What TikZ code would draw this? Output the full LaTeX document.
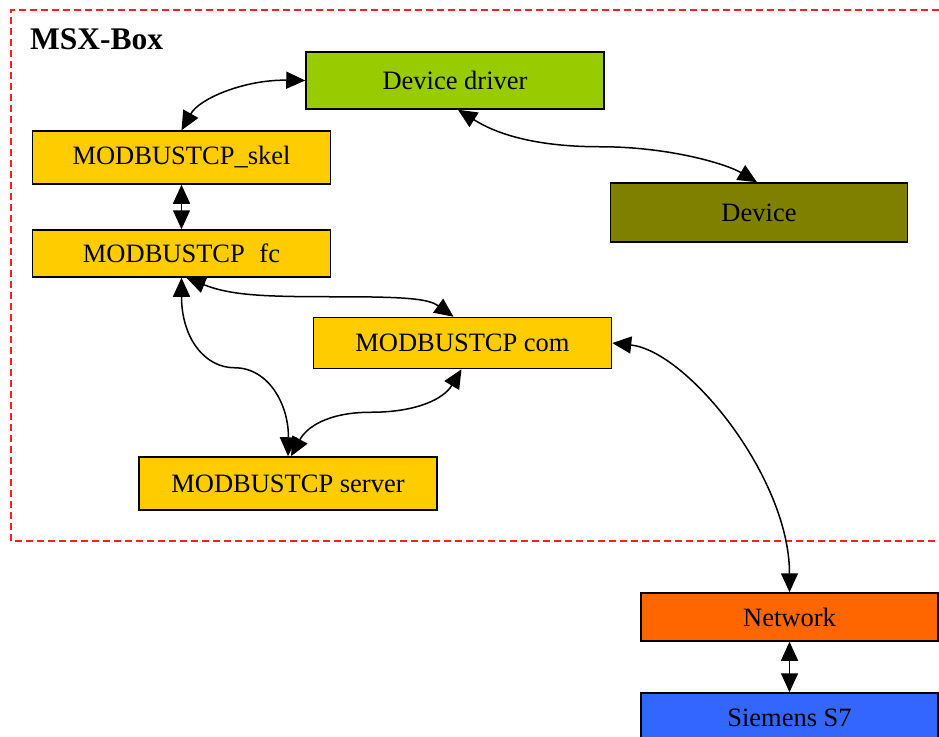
\documentclass[tikz,border=0pt]{standalone}
\usepackage{fontspec}
\setmainfont{Liberation Serif}
\usetikzlibrary{arrows.meta}

\definecolor{drvgreen}{HTML}{99CC00}
\definecolor{devolive}{HTML}{808000}
\definecolor{modyellow}{HTML}{FFCC00}
\definecolor{netorange}{HTML}{FF6600}
\definecolor{plcblue}{HTML}{3366FF}
\definecolor{boxred}{HTML}{FF2020}

\tikzset{
  block/.style={draw=black, line width=1.5pt, rectangle, inner sep=0pt,
    font=\fontsize{26.5}{30}\selectfont, text=black},
  link/.style={line width=1.5pt,
    {Triangle[length=19pt 0, width=17pt 0]}-{Triangle[length=19pt 0, width=17pt 0]}},
  frame/.style={draw=boxred, line width=1.2pt, dash pattern=on 7pt off 4pt}
}

\begin{document}
\begin{tikzpicture}[x=1pt, y=-1pt]
  \useasboundingbox (0,0) rectangle (939,736);
  \fill[white] (0,0) rectangle (939,736);

  % dashed boundary of the box
  \draw[frame] (950,10) -- (11,10) -- (11,541) -- (950,541);
  \node[anchor=base west, inner sep=0pt, font=\fontsize{31.5}{34}\selectfont\bfseries] (title) at (30,49) {MSX-Box};

  % blocks
  \node[block, fill=drvgreen, minimum width=298pt, minimum height=57pt] (drv) at (455,80.5) {Device driver};
  \node[block, fill=modyellow, minimum width=298pt, minimum height=53pt] (skel) at (181.5,157.5) {MODBUSTCP\_skel};
  \node[block, fill=modyellow, minimum width=298pt, minimum height=47pt] (fc) at (181.5,253.5) {MODBUSTCP\hspace{0.55em}fc};
  \node[block, fill=modyellow, minimum width=298pt, minimum height=51pt] (com) at (462.5,343) {MODBUSTCP com};
  \node[block, fill=modyellow, minimum width=298pt, minimum height=53pt] (srv) at (288,483.5) {MODBUSTCP server};
  \node[block, fill=devolive, minimum width=297pt, minimum height=59pt] (dev) at (759,212.5) {Device};
  \node[block, fill=netorange, minimum width=297pt, minimum height=48pt] (net) at (789.5,617) {Network};
  \node[block, fill=plcblue, minimum width=297pt, minimum height=50pt] (s7) at (789.5,718) {Siemens S7};

  % connections
  \draw[link] (drv.west) .. controls +(-60,-1) and +(18,-32) .. (skel.north);
  \draw[link] (skel.south) -- (fc.north);
  \draw[link] ([xshift=5pt]fc.south) .. controls +(45,18) and +(-70,0) .. ++(150,19)
              .. controls +(70,0) and +(-25,-18) .. ([xshift=-9pt]com.north);
  \draw[link] (fc.south) .. controls +(0,60) and +(-30,0) .. ++(53,90)
              .. controls +(35,0) and +(1,-50) .. (srv.north);
  \draw[link] ([xshift=3pt]srv.north) .. controls +(15,-28) and +(-45,0) .. ++(80,-44)
              .. controls +(45,0) and +(-18,30) .. ([xshift=-1pt]com.south);
  \draw[link] (com.east) .. controls +(75,8) and +(0,-115) .. (net.north);
  \draw[link] (net.south) -- (s7.north);
  \draw[link] ([xshift=3pt]drv.south) .. controls +(35,22) and +(-70,0) .. ++(142,37)
              .. controls +(70,0) and +(-30,-18) .. ([xshift=-2pt]dev.north);
\end{tikzpicture}
\end{document}
